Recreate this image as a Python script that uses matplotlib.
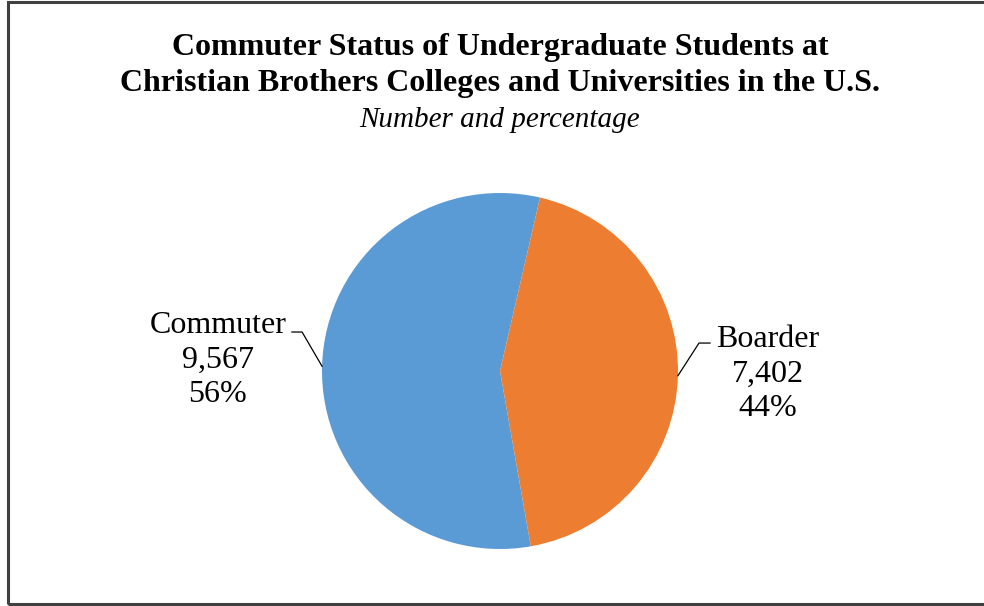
import numpy as np
import matplotlib.pyplot as plt
from matplotlib.patches import Rectangle

categories = ['Commuter', 'Boarder']
counts = [9567, 7402]
colors = ['#5B9BD5', '#ED7D31']

plt.rcParams['font.family'] = ['Liberation Serif', 'DejaVu Serif']

W, H = 984, 606
fig = plt.figure(figsize=(W / 100, H / 100), dpi=100)

# frame around the chart
fig.patches.append(Rectangle((7.5 / W, 2.5 / H), 1.2, (601.5 / H), transform=fig.transFigure,
                             fill=False, edgecolor='#404040', linewidth=2.2))

fig.text(500 / W, 1 - 48 / H, 'Commuter Status of Undergraduate Students at',
         ha='center', va='center', fontsize=23, fontweight='bold')
fig.text(500 / W, 1 - 84 / H, 'Christian Brothers Colleges and Universities in the U.S.',
         ha='center', va='center', fontsize=23, fontweight='bold')
fig.text(500 / W, 1 - 120 / H, 'Number and percentage',
         ha='center', va='center', fontsize=21, style='italic')

cx, cy, r = 500, 371, 178
ax = fig.add_axes([(cx - r) / W, (H - cy - r) / H, 2 * r / W, 2 * r / H])
wedges, _ = ax.pie(counts, colors=colors, startangle=77, radius=1,
                   wedgeprops=dict(linewidth=0))
ax.set_xlim(-1, 1)
ax.set_ylim(-1, 1)
ax.set_aspect('equal')
ax.axis('off')

total = sum(counts)
# label positions (data units, radius = 1)
text_pos = [(-1.585, 0.062), (1.505, -0.016)]
elbows = [[(-1.112, 0.219), (-1.169, 0.219)], [(1.118, 0.157), (1.18, 0.157)]]
for w, cat, n, tp, el in zip(wedges, categories, counts, text_pos, elbows):
    mid = np.deg2rad((w.theta1 + w.theta2) / 2)
    x0, y0 = np.cos(mid), np.sin(mid)
    xs = [x0] + [p[0] for p in el]
    ys = [y0] + [p[1] for p in el]
    ax.plot(xs, ys, color='black', linewidth=0.9, clip_on=False)
    ax.text(tp[0], tp[1], '%s\n%s\n%d%%' % (cat, format(n, ','), round(100 * n / total)),
            ha='center', va='center', fontsize=23, linespacing=1.26, clip_on=False)

fig.savefig('out.png', dpi=100)
